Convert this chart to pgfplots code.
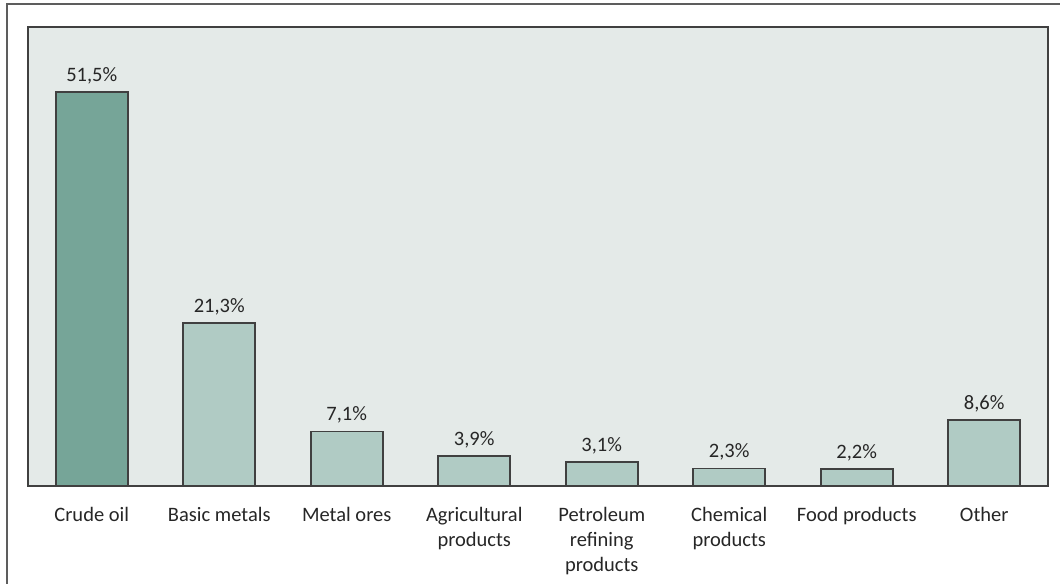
\documentclass[border=0pt]{standalone}
\usepackage{pgfplots}
\pgfplotsset{compat=1.18}
\usepackage{fontspec}
\setmainfont{Carlito}
\definecolor{darkbar}{HTML}{76A598}
\definecolor{lightbar}{HTML}{B0CBC4}
\definecolor{plotbg}{HTML}{E4EAE8}
\definecolor{edge}{HTML}{404040}
\definecolor{txt}{HTML}{262626}
\begin{document}
\begin{tikzpicture}[x=1bp,y=1bp]
\useasboundingbox (0,0) rectangle (1060,584);
\draw[color=edge!85, line width=1.5bp] (7,-5) -- (7,580) -- (1065,580);
\begin{axis}[
  at={(28bp,98bp)}, anchor=south west,
  scale only axis, width=1020bp, height=459bp,
  xmin=-0.5, xmax=7.5, ymin=0, ymax=60,
  axis background/.style={fill=plotbg},
  axis line style={color=edge, line width=1.4bp},
  ytick=\empty,
  xtick={0,...,7},
  xticklabels={Crude oil, Basic metals, Metal ores, {Agricultural\\products}, {Petroleum\\refining\\products}, {Chemical\\products}, Food products, Other},
  xtick style={draw=none},
  xticklabel style={align=center, anchor=north, yshift=-13bp, font=\fontsize{20.5bp}{25bp}\selectfont, text=txt},
  ybar, bar width=72bp, bar shift=0pt,
  nodes near coords,
  point meta=explicit symbolic,
  nodes near coords style={font=\fontsize{20.5bp}{25bp}\selectfont, text=txt, yshift=4bp},
]
\addplot[ybar, fill=darkbar, draw=edge, line width=1.6bp] table[meta=lab] {
x y lab
0 51.5 51,5\%
};
\addplot[ybar, fill=lightbar, draw=edge, line width=1.6bp] table[meta=lab] {
x y lab
1 21.3 21,3\%
2 7.1 7,1\%
3 3.9 3,9\%
4 3.1 3,1\%
5 2.3 2,3\%
6 2.2 2,2\%
7 8.6 8,6\%
};
\end{axis}
\end{tikzpicture}
\end{document}
